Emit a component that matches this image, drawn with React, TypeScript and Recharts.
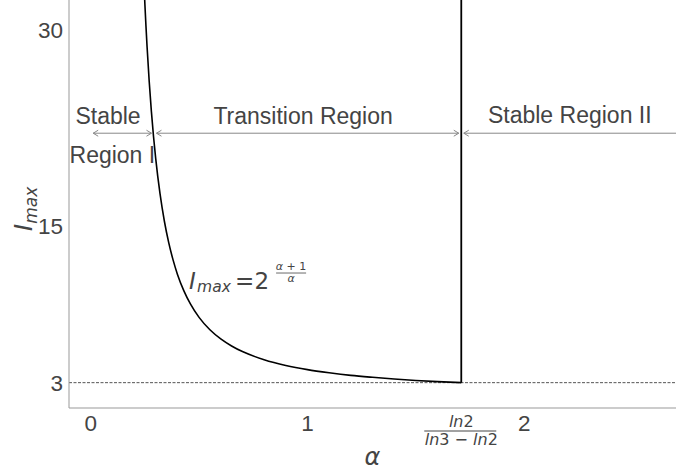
import { LineChart, Line, XAxis, YAxis, ReferenceLine, ReferenceDot, Label } from "recharts";

// I_max, alpha on the x axis
const alphaValues = [0.245, 0.25, 0.255, 0.26, 0.27, 0.28, 0.29, 0.3, 0.32, 0.34, 0.36, 0.38, 0.4, 0.43, 0.46, 0.5, 0.55, 0.6, 0.65, 0.7, 0.8, 0.9, 1.0, 1.1, 1.2, 1.3, 1.4, 1.5, 1.6, 1.7095];
const iMaxValues = [33.86, 32.0, 30.31, 28.76, 26.06, 23.77, 21.83, 20.16, 17.45, 15.36, 13.72, 12.4, 11.31, 10.03, 9.03, 8.0, 7.05, 6.35, 5.81, 5.38, 4.76, 4.32, 4.0, 3.76, 3.56, 3.41, 3.28, 3.17, 3.08, 3.0];

const threshold = 1.7095; // ln2 / (ln3 - ln2)
const thresholdTop = 32.3;
const floorValue = 3;

const xTicks = [0, 1, threshold, 2];
const yTicks = [3, 15, 30];

const arrowLevel = 22.1;
const regionBounds = [0, 0.292, threshold, 2.7];

const regionLabels = [
  { text: "Stable", a: 0.08, v: 22.8 },
  { text: "Region I", a: 0.1, v: 19.8 },
  { text: "Transition Region", a: 0.98, v: 22.8 },
  { text: "Stable Region II", a: 2.21, v: 22.85 },
];
const formulaPos = { a: 0.454, v: 10.17 };

const curveData = alphaValues.map((a, i) => ({ a, v: iMaxValues[i] }));
const verticalData = [
  { a: threshold, v: floorValue },
  { a: threshold, v: thresholdTop },
];

const TEXT = "#444";
const SPINE = "#999";
const SANS = "Liberation Sans, Arial, sans-serif";
const MATH = "DejaVu Sans";

function arrowHead(x: number, y: number, dir: number) {
  // open chevron, dir = -1 points left, 1 points right
  return `M${x - dir * 5},${y - 3} L${x},${y} L${x - dir * 5},${y + 3}`;
}

function RegionArrow(props: any) {
  const { x1, y1, x2, headRight } = props;
  const l = x1 + 2.5;
  const r = headRight ? x2 - 2.5 : x2;
  return (
    <g>
      <line x1={l} y1={y1} x2={r} y2={y1} stroke="#888" strokeWidth={1} />
      <path d={arrowHead(l, y1, -1)} fill="none" stroke="#888" strokeWidth={1} />
      {headRight && <path d={arrowHead(r, y1, 1)} fill="none" stroke="#888" strokeWidth={1} />}
    </g>
  );
}

function XTick(props: any) {
  const { x, y, payload } = props;
  if (Math.abs(payload.value - threshold) < 1e-6) {
    return (
      <g fill={TEXT} fontFamily={MATH}>
        <text x={x} y={y + 19} textAnchor="middle" fontSize={16}>
          <tspan fontStyle="italic">ln</tspan>2
        </text>
        <line x1={x - 37} y1={y + 23} x2={x + 35} y2={y + 23} stroke={TEXT} strokeWidth={1} />
        <text x={x} y={y + 37} textAnchor="middle" fontSize={16}>
          <tspan fontStyle="italic">ln</tspan>3 − <tspan fontStyle="italic">ln</tspan>2
        </text>
      </g>
    );
  }
  return (
    <text x={x} y={y + 23} textAnchor="middle" fontSize={22.5} fontFamily={SANS} fill={TEXT}>
      {payload.value}
    </text>
  );
}

function Formula(props: any) {
  const { cx, cy } = props;
  return (
    <g fill={TEXT} fontFamily={MATH}>
      <text x={cx} y={cy} fontSize={23} fontStyle="italic">I</text>
      <text x={cx + 8} y={cy + 3} fontSize={15.5} fontStyle="italic">max</text>
      <text x={cx + 46} y={cy} fontSize={23}>=</text>
      <text x={cx + 65.5} y={cy} fontSize={23}>2</text>
      <text x={cx + 102} y={cy - 19} fontSize={11} textAnchor="middle">
        <tspan fontStyle="italic">α</tspan> + 1
      </text>
      <line x1={cx + 87} y1={cy - 16} x2={cx + 117} y2={cy - 16} stroke={TEXT} strokeWidth={0.8} />
      <text x={cx + 102} y={cy - 7} fontSize={11} textAnchor="middle" fontStyle="italic">α</text>
    </g>
  );
}

export default function App() {
  return (
    <div style={{ position: "absolute", left: 0, top: 0, background: "#fff" }}>
      <LineChart width={697} height={475} margin={{ top: 0, right: 21, bottom: 0, left: 0 }}>
        <XAxis
          type="number"
          dataKey="a"
          domain={[-0.1, 2.7]}
          allowDataOverflow
          ticks={xTicks}
          tick={<XTick />}
          tickLine={false}
          tickSize={0}
          tickMargin={0}
          height={67}
          axisLine={{ stroke: SPINE }}
        >
          <Label
            content={(p: any) => {
              const vb = p.viewBox;
              return (
                <text x={vb.x + vb.width / 2} y={vb.y + 57} textAnchor="middle" fontSize={24} fontStyle="italic" fontFamily={MATH} fill={TEXT}>
                  α
                </text>
              );
            }}
          />
        </XAxis>
        <YAxis
          type="number"
          domain={[1.06, 32.3]}
          allowDataOverflow
          ticks={yTicks}
          tickLine={false}
          tickSize={0}
          tickMargin={6}
          width={69}
          tick={{ fontSize: 22.5, fontFamily: SANS, fill: TEXT }}
          axisLine={{ stroke: SPINE }}
        >
          <Label
            content={(p: any) => {
              const vb = p.viewBox;
              const lx = 32;
              const ly = vb.y + vb.height / 2 + 5;
              return (
                <text x={lx} y={ly} transform={`rotate(-90 ${lx} ${ly})`} textAnchor="middle" fontFamily={MATH} fill={TEXT} fontStyle="italic">
                  <tspan fontSize={25}>I</tspan>
                  <tspan fontSize={17} dy={5}>max</tspan>
                </text>
              );
            }}
          />
        </YAxis>

        <ReferenceLine y={floorValue} stroke="#555" strokeWidth={1} strokeDasharray="3 1.5" />

        {regionBounds.slice(0, -1).map((b, i) => (
          <ReferenceLine
            key={i}
            segment={[
              { x: b, y: arrowLevel },
              { x: regionBounds[i + 1], y: arrowLevel },
            ]}
            ifOverflow="visible"
            shape={(p: any) => <RegionArrow {...p} headRight={i < regionBounds.length - 2} />}
          />
        ))}

        <Line data={curveData} dataKey="v" type="monotone" stroke="#000" strokeWidth={1.6} dot={false} isAnimationActive={false} />
        <Line data={verticalData} dataKey="v" type="linear" stroke="#000" strokeWidth={1.8} dot={false} isAnimationActive={false} />

        {regionLabels.map((r) => (
          <ReferenceDot
            key={r.text}
            x={r.a}
            y={r.v}
            r={0}
            shape={(p: any) => (
              <text x={p.cx} y={p.cy} textAnchor="middle" fontSize={23} fontFamily={SANS} fill={TEXT}>
                {r.text}
              </text>
            )}
          />
        ))}
        <ReferenceDot x={formulaPos.a} y={formulaPos.v} r={0} shape={(p: any) => <Formula {...p} />} />
      </LineChart>
    </div>
  );
}
